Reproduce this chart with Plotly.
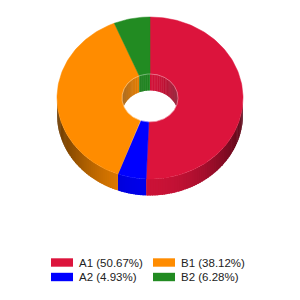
import math
import plotly.graph_objects as go

# ---- data ----
labels = ["A1", "A2", "B1", "B2"]
percents = [50.67, 4.93, 38.12, 6.28]
colors = ["#DC143C", "#0000FF", "#FF8C00", "#228B22"]

# ---- geometry (pixels) ----
CX, CY = 150.0, 98.0
RX, RY = 93.0, 81.0
HRX, HRY = 28.0, 24.0
DEPTH = 16.5
STEP = 1.5


def hex_rgb(h):
    h = h.lstrip("#")
    return tuple(int(h[i:i + 2], 16) for i in (0, 2, 4))


def shade(h, f):
    r, g, b = hex_rgb(h)
    return "rgb(%d,%d,%d)" % (min(255, r * f), min(255, g * f), min(255, b * f))


def pt(rx, ry, deg, dy=0.0):
    t = math.radians(deg)
    return CX + rx * math.sin(t), CY - ry * math.cos(t) + dy


def angles(a, b):
    n = max(2, int(math.ceil((b - a) / STEP)) + 1)
    return [a + (b - a) * i / (n - 1) for i in range(n)]


# slice angle ranges (clockwise from 12 o'clock)
total = sum(percents)
bounds = []
acc = 0.0
for p in percents:
    a0 = acc / total * 360.0
    acc += p
    bounds.append((a0, acc / total * 360.0))

fig = go.Figure()


def poly(xs, ys, color, line=None, lw=0.0):
    fig.add_trace(go.Scatter(
        x=xs + [xs[0]], y=ys + [ys[0]], mode="lines", fill="toself",
        fillcolor=color, line=dict(color=line or color, width=lw),
        hoverinfo="skip", showlegend=False))


def wall(rx, ry, lo, hi, col, fn):
    ang = angles(lo, hi)
    for i in range(len(ang) - 1):
        t0 = ang[i]
        t1 = min(ang[i + 1] + STEP * 0.6, hi)
        s = math.sin(math.radians((ang[i] + ang[i + 1]) / 2))
        c = shade(col, fn(s))
        sub = angles(t0, t1)
        top = [pt(rx, ry, t) for t in sub]
        bot = [pt(rx, ry, t, DEPTH) for t in reversed(sub)]
        pts = top + bot
        poly([p[0] for p in pts], [p[1] for p in pts], c)


# outer side walls (front half: 90..270 deg)
for (a0, a1), col in zip(bounds, colors):
    lo, hi = max(a0, 90.0), min(a1, 270.0)
    if hi > lo:
        wall(RX, RY, lo, hi, col, lambda s: 0.92 - 0.5 * s * s)

# inner hole wall (back half: 270..450 deg)
for (a0, a1), col in zip(bounds, colors):
    for off in (0.0, 360.0):
        lo, hi = max(a0 + off, 270.0), min(a1 + off, 450.0)
        if hi > lo:
            wall(HRX, HRY, lo, hi, col, lambda s: 0.95 - 0.35 * s * s)

# top faces
for (a0, a1), col in zip(bounds, colors):
    ang = angles(a0, a1)
    outer = [pt(RX, RY, t) for t in ang]
    inner = [pt(HRX, HRY, t) for t in reversed(ang)]
    pts = outer + inner
    poly([p[0] for p in pts], [p[1] for p in pts], col, line=col, lw=0.5)

# faint highlight on the hole rim
rim = [pt(HRX, HRY, t) for t in angles(0, 360)]
fig.add_trace(go.Scatter(x=[p[0] for p in rim], y=[p[1] for p in rim], mode="lines",
                         line=dict(color="rgba(255,255,255,0.35)", width=1),
                         hoverinfo="skip", showlegend=False))

# ---- legend (column-major, 2 columns) ----
col_x = [51, 153]
row_y = [262.5, 277]
shapes = []
annotations = []
for i, (lab, p, col) in enumerate(zip(labels, percents, colors)):
    cx_ = col_x[i // 2]
    cy_ = row_y[i % 2]
    shapes.append(dict(type="rect", xref="x", yref="y", x0=cx_, x1=cx_ + 22,
                       y0=cy_ - 4.2, y1=cy_ + 4.2, fillcolor=col, line=dict(width=0)))
    annotations.append(dict(x=cx_ + 26, y=cy_, xref="x", yref="y", xanchor="left",
                            yanchor="middle", showarrow=False,
                            text="%s (%.2f%%)" % (lab, p),
                            font=dict(family="Liberation Sans, Arial", size=11.5, color="#222222")))

fig.update_layout(
    width=300, height=300, margin=dict(l=0, r=0, t=0, b=0),
    paper_bgcolor="white", plot_bgcolor="white", showlegend=False,
    xaxis=dict(range=[0, 300], visible=False, fixedrange=True),
    yaxis=dict(range=[300, 0], visible=False, fixedrange=True),
    shapes=shapes, annotations=annotations,
)
fig.write_html("out.html")
